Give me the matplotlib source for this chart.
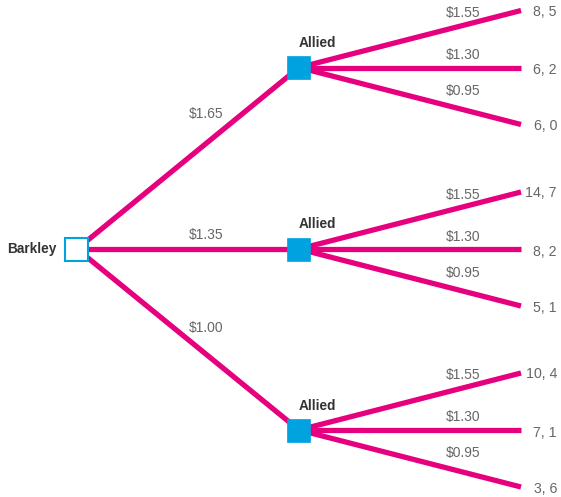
import matplotlib.pyplot as plt
from matplotlib.patches import Rectangle

# Data
barkley_prices = ["$1.65", "$1.35", "$1.00"]
allied_prices = ["$1.55", "$1.30", "$0.95"]
payoffs = [["8, 5", "6, 2", "6, 0"],
           ["14, 7", "8, 2", "5, 1"],
           ["10, 4", "7, 1", "3, 6"]]
root_label = "Barkley"
child_label = "Allied"

PINK = "#E6007E"
BLUE = "#00A3E0"
GRAY = "#666666"
DARK = "#333333"

W, H = 561, 497
fig = plt.figure(figsize=(W / 100, H / 100), dpi=100)
ax = fig.add_axes([0, 0, 1, 1])
ax.set_xlim(0, W)
ax.set_ylim(H, 0)
ax.axis("off")

font = "Liberation Sans"
root = (77, 249)
child_x = 299
child_y = [67.5, 249, 430]
leaf_x = 521
leaf_dy = [-57, 0, 57]
sq = 23
lw = 3.8

# Root text
ax.text(57, root[1], root_label, ha="right", va="center", fontsize=9.8,
        fontweight="bold", color=DARK, family=font)

for i, cy in enumerate(child_y):
    ax.plot([root[0], child_x], [root[1], cy], color=PINK, lw=lw,
            solid_capstyle="butt", zorder=1)
    ax.text(206, [114, 235, 328][i], barkley_prices[i], ha="center",
            va="center", fontsize=10, color=GRAY, family=font)
    for j, dy in enumerate(leaf_dy):
        ly = cy + dy
        ax.plot([child_x, leaf_x], [cy, ly], color=PINK, lw=lw,
                solid_capstyle="butt", zorder=1)
        ax.text(463, cy + [-54.5, -12.5, 23.5][j], allied_prices[j],
                ha="center", va="center", fontsize=10, color=GRAY, family=font)
        ax.text(557, ly + [1, 3, 2][j], payoffs[i][j], ha="right",
                va="center", fontsize=10.2, color=GRAY, family=font)
    ax.add_patch(Rectangle((child_x - sq / 2, cy - sq / 2), sq, sq,
                           facecolor=BLUE, edgecolor=BLUE, lw=0.5, zorder=3))
    ax.text(317, cy - 24.5, child_label, ha="center", va="center",
            fontsize=9.8, fontweight="bold", color=DARK, family=font)

ax.add_patch(Rectangle((root[0] - sq / 2, root[1] - sq / 2), sq, sq,
                       facecolor="white", edgecolor=BLUE, lw=1.5, zorder=3))

fig.savefig("out.png", dpi=100)
